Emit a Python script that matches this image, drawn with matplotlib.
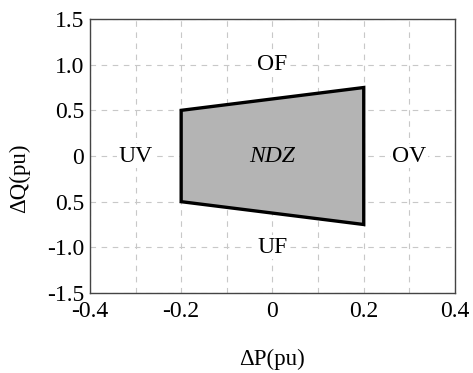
import matplotlib
matplotlib.use("Agg")
import matplotlib.pyplot as plt

plt.rcParams['font.family'] = ['Liberation Serif', 'DejaVu Serif']

# NDZ polygon corners (dP, dQ)
ndz_p = [-0.2, 0.2, 0.2, -0.2]
ndz_q = [0.5, 0.75, -0.75, -0.5]

# region labels
region_names = ["OF", "UF", "UV", "OV"]
region_p = [0.0, 0.0, -0.3, 0.3]
region_q = [1.0, -1.0, 0.0, 0.0]

xticks = [-0.4, -0.2, 0, 0.2, 0.4]
xtick_labels = ["-0.4", "-0.2", "0", "0.2", "0.4"]
yticks = [1.5, 1.0, 0.5, 0, -0.5, -1.0, -1.5]
ytick_labels = ["1.5", "1.0", "0.5", "0", "0.5", "-1.0", "-1.5"]

fig = plt.figure(figsize=(4.73, 3.73), dpi=100)
ax = fig.add_axes([0.190, 0.2145, 0.772, 0.7345])

ax.fill(ndz_p, ndz_q, facecolor="#b4b4b4", edgecolor="black", linewidth=2.4, zorder=3)

ax.set_xlim(-0.4, 0.4)
ax.set_ylim(-1.5, 1.5)
ax.set_xticks(xticks)
ax.set_xticklabels(xtick_labels)
ax.set_yticks(yticks)
ax.set_yticklabels(ytick_labels)
ax.set_xticks([-0.3, -0.1, 0.1, 0.3], minor=True)
ax.tick_params(which="both", length=0, labelsize=17)
ax.tick_params(axis="x", pad=6)
ax.tick_params(axis="y", pad=4)
ax.grid(True, which="both", linestyle=(0, (5, 5)), color="#c8c8c8", linewidth=0.8)
ax.set_axisbelow(True)
for s in ax.spines.values():
    s.set_color("#444444")
    s.set_linewidth(1.0)

for name, p, q in zip(region_names, region_p, region_q):
    ax.text(p, q, name, ha="center", va="center", fontsize=17,
            bbox=dict(facecolor="white", edgecolor="none", pad=1), zorder=4)
ax.text(0, 0, "NDZ", ha="center", va="center", fontsize=17, style="italic", zorder=4)

ax.set_xlabel("ΔP(pu)", fontsize=16.5, labelpad=19)
ax.set_ylabel("ΔQ(pu)", fontsize=16.5)
ax.yaxis.set_label_coords(-0.164, 0.42)

fig.savefig("out.png", dpi=100)
